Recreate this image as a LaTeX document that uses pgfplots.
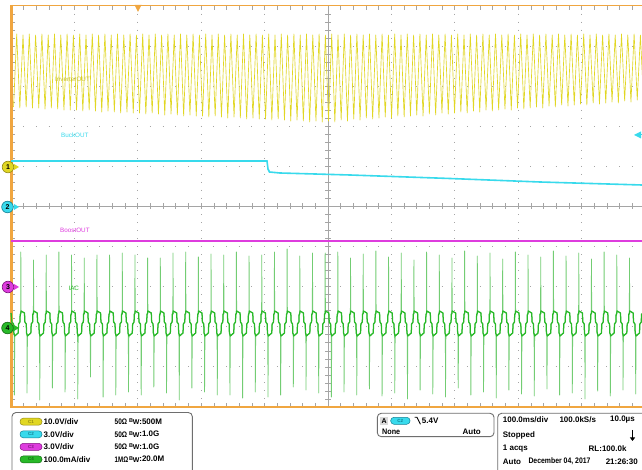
\documentclass[border=0pt]{standalone}
\usepackage{fontspec}
\setmainfont{Liberation Sans}
\usepackage{pgfplots}
\usepackage{pgfplotstable}
\pgfplotsset{compat=1.18}
\usetikzlibrary{arrows.meta}
\definecolor{cyel}{RGB}{225,215,35}
\definecolor{cyelD}{RGB}{150,140,20}
\definecolor{ccya}{RGB}{56,218,236}
\definecolor{ccyaD}{RGB}{20,130,150}
\definecolor{cmag}{RGB}{222,60,222}
\definecolor{cmagD}{RGB}{130,20,130}
\definecolor{cgrn}{RGB}{40,185,40}
\definecolor{cgrnL}{RGB}{115,205,115}
\definecolor{cgrnD}{RGB}{20,110,20}
\definecolor{corg}{RGB}{240,166,64}
\definecolor{cgrid}{RGB}{165,165,165}
\definecolor{cbox}{RGB}{110,110,110}
\pgfplotsset{scr/.style={width=642pt,height=470pt,scale only axis,at={(0,0)},anchor=south west,hide axis,ymin=0,ymax=470,y dir=reverse}}
\newcommand{\pf}{\fontsize{8}{9.6}\selectfont\bfseries}
\newcommand{\sx}[2]{\resizebox{#1pt}{\height}{\pf #2}}
\newcommand{\pill}[6]{\draw[#5,line width=0.5pt,fill=#4,rounded corners=3.3pt] (#1,{#3-3.5}) rectangle (#2,{#3+3.5});
  \node[inner sep=0pt,font=\fontsize{4.5}{5}\selectfont\bfseries,text=#5] at ({(#1+#2)/2},#3) {#6};}
\newcommand{\bw}[1]{\raisebox{1.6pt}{\fontsize{5.5}{5}\selectfont B}\kern-0.4pt\raisebox{-0.6pt}{\fontsize{7}{6}\selectfont W}:#1}
% C4 current trace, x in 1/100 of a 20 ms cycle, y in screen pixels
\pgfplotstableread[row sep=\\]{
x y\\
-76 313\\ -70 322\\ -56 324\\ -54 333\\ -51 334\\ -50 395\\ -47 336\\ -20 333\\ -17 324\\ -6 322\\ -4 314\\
0 314\\ 1 252\\ 3 311\\ 30 313\\ 33 322\\ 44 324\\ 46 333\\ 49 334\\ 50 393\\ 53 336\\ 80 333\\ 83 324\\ 94 322\\ 96 314\\
100 314\\ 101 260\\ 103 311\\ 130 313\\ 133 322\\ 144 324\\ 146 333\\ 149 334\\ 150 400\\ 153 336\\ 180 333\\ 183 324\\ 194 322\\ 196 314\\
200 314\\ 201 255\\ 203 311\\ 230 313\\ 233 322\\ 244 324\\ 246 333\\ 249 334\\ 250 388\\ 253 336\\ 280 333\\ 283 324\\ 294 322\\ 296 314\\
300 314\\ 301 252\\ 303 311\\ 330 313\\ 333 322\\ 344 324\\ 346 333\\ 349 334\\ 350 392\\ 353 336\\ 380 333\\ 383 324\\ 394 322\\ 396 314\\
400 314\\ 401 255\\ 403 311\\ 430 313\\ 433 322\\ 444 324\\ 446 333\\ 449 334\\ 450 399\\ 453 336\\ 480 333\\ 483 324\\ 494 322\\ 496 314\\
500 314\\ 501 258\\ 503 311\\ 530 313\\ 533 322\\ 544 324\\ 546 333\\ 549 334\\ 550 377\\ 553 336\\ 580 333\\ 583 324\\ 594 322\\ 596 314\\
600 314\\ 601 255\\ 603 311\\ 630 313\\ 633 322\\ 644 324\\ 646 333\\ 649 334\\ 650 397\\ 653 336\\ 680 333\\ 683 324\\ 694 322\\ 696 314\\
700 314\\ 701 255\\ 703 311\\ 730 313\\ 733 322\\ 744 324\\ 746 333\\ 749 334\\ 750 395\\ 753 336\\ 780 333\\ 783 324\\ 794 322\\ 796 314\\
800 314\\ 801 253\\ 803 311\\ 830 313\\ 833 322\\ 844 324\\ 846 333\\ 849 334\\ 850 392\\ 853 336\\ 880 333\\ 883 324\\ 894 322\\ 896 314\\
900 314\\ 901 255\\ 903 311\\ 930 313\\ 933 322\\ 944 324\\ 946 333\\ 949 334\\ 950 395\\ 953 336\\ 980 333\\ 983 324\\ 994 322\\ 996 314\\
1000 314\\ 1001 258\\ 1003 311\\ 1030 313\\ 1033 322\\ 1044 324\\ 1046 333\\ 1049 334\\ 1050 387\\ 1053 336\\ 1080 333\\ 1083 324\\ 1094 322\\ 1096 314\\
1100 314\\ 1101 258\\ 1103 311\\ 1130 313\\ 1133 322\\ 1144 324\\ 1146 333\\ 1149 334\\ 1150 393\\ 1153 336\\ 1180 333\\ 1183 324\\ 1194 322\\ 1196 314\\
1200 314\\ 1201 253\\ 1203 311\\ 1230 313\\ 1233 322\\ 1244 324\\ 1246 333\\ 1249 334\\ 1250 400\\ 1253 336\\ 1280 333\\ 1283 324\\ 1294 322\\ 1296 314\\
1300 314\\ 1301 252\\ 1303 311\\ 1330 313\\ 1333 322\\ 1344 324\\ 1346 333\\ 1349 334\\ 1350 388\\ 1353 336\\ 1380 333\\ 1383 324\\ 1394 322\\ 1396 314\\
1400 314\\ 1401 257\\ 1403 311\\ 1430 313\\ 1433 322\\ 1444 324\\ 1446 333\\ 1449 334\\ 1450 392\\ 1453 336\\ 1480 333\\ 1483 324\\ 1494 322\\ 1496 314\\
1500 314\\ 1501 254\\ 1503 311\\ 1530 313\\ 1533 322\\ 1544 324\\ 1546 333\\ 1549 334\\ 1550 395\\ 1553 336\\ 1580 333\\ 1583 324\\ 1594 322\\ 1596 314\\
1600 314\\ 1601 255\\ 1603 311\\ 1630 313\\ 1633 322\\ 1644 324\\ 1646 333\\ 1649 334\\ 1650 395\\ 1653 336\\ 1680 333\\ 1683 324\\ 1694 322\\ 1696 314\\
1700 314\\ 1701 252\\ 1703 311\\ 1730 313\\ 1733 322\\ 1744 324\\ 1746 333\\ 1749 334\\ 1750 398\\ 1753 336\\ 1780 333\\ 1783 324\\ 1794 322\\ 1796 314\\
1800 314\\ 1801 256\\ 1803 311\\ 1830 313\\ 1833 322\\ 1844 324\\ 1846 333\\ 1849 334\\ 1850 392\\ 1853 336\\ 1880 333\\ 1883 324\\ 1894 322\\ 1896 314\\
1900 314\\ 1901 255\\ 1903 311\\ 1930 313\\ 1933 322\\ 1944 324\\ 1946 333\\ 1949 334\\ 1950 397\\ 1953 336\\ 1980 333\\ 1983 324\\ 1994 322\\ 1996 314\\
2000 314\\ 2001 252\\ 2003 311\\ 2030 313\\ 2033 322\\ 2044 324\\ 2046 333\\ 2049 334\\ 2050 395\\ 2053 336\\ 2080 333\\ 2083 324\\ 2094 322\\ 2096 314\\
2100 314\\ 2101 249\\ 2103 311\\ 2130 313\\ 2133 322\\ 2144 324\\ 2146 333\\ 2149 334\\ 2150 387\\ 2153 336\\ 2180 333\\ 2183 324\\ 2194 322\\ 2196 314\\
2200 314\\ 2201 256\\ 2203 311\\ 2230 313\\ 2233 322\\ 2244 324\\ 2246 333\\ 2249 334\\ 2250 390\\ 2253 336\\ 2280 333\\ 2283 324\\ 2294 322\\ 2296 314\\
2300 314\\ 2301 253\\ 2303 311\\ 2330 313\\ 2333 322\\ 2344 324\\ 2346 333\\ 2349 334\\ 2350 393\\ 2353 336\\ 2380 333\\ 2383 324\\ 2394 322\\ 2396 314\\
2400 314\\ 2401 253\\ 2403 311\\ 2430 313\\ 2433 322\\ 2444 324\\ 2446 333\\ 2449 334\\ 2450 397\\ 2453 336\\ 2480 333\\ 2483 324\\ 2494 322\\ 2496 314\\
2500 314\\ 2501 252\\ 2503 311\\ 2530 313\\ 2533 322\\ 2544 324\\ 2546 333\\ 2549 334\\ 2550 392\\ 2553 336\\ 2580 333\\ 2583 324\\ 2594 322\\ 2596 314\\
2600 314\\ 2601 258\\ 2603 311\\ 2630 313\\ 2633 322\\ 2644 324\\ 2646 333\\ 2649 334\\ 2650 395\\ 2653 336\\ 2680 333\\ 2683 324\\ 2694 322\\ 2696 314\\
2700 314\\ 2701 254\\ 2703 311\\ 2730 313\\ 2733 322\\ 2744 324\\ 2746 333\\ 2749 334\\ 2750 389\\ 2753 336\\ 2780 333\\ 2783 324\\ 2794 322\\ 2796 314\\
2800 314\\ 2801 251\\ 2803 311\\ 2830 313\\ 2833 322\\ 2844 324\\ 2846 333\\ 2849 334\\ 2850 396\\ 2853 336\\ 2880 333\\ 2883 324\\ 2894 322\\ 2896 314\\
2900 314\\ 2901 257\\ 2903 311\\ 2930 313\\ 2933 322\\ 2944 324\\ 2946 333\\ 2949 334\\ 2950 393\\ 2953 336\\ 2980 333\\ 2983 324\\ 2994 322\\ 2996 314\\
3000 314\\ 3001 253\\ 3003 311\\ 3030 313\\ 3033 322\\ 3044 324\\ 3046 333\\ 3049 334\\ 3050 399\\ 3053 336\\ 3080 333\\ 3083 324\\ 3094 322\\ 3096 314\\
3100 314\\ 3101 260\\ 3103 311\\ 3130 313\\ 3133 322\\ 3144 324\\ 3146 333\\ 3149 334\\ 3150 390\\ 3153 336\\ 3180 333\\ 3183 324\\ 3194 322\\ 3196 314\\
3200 314\\ 3201 252\\ 3203 311\\ 3230 313\\ 3233 322\\ 3244 324\\ 3246 333\\ 3249 334\\ 3250 394\\ 3253 336\\ 3280 333\\ 3283 324\\ 3294 322\\ 3296 314\\
3300 314\\ 3301 255\\ 3303 311\\ 3330 313\\ 3333 322\\ 3344 324\\ 3346 333\\ 3349 334\\ 3350 397\\ 3353 336\\ 3380 333\\ 3383 324\\ 3394 322\\ 3396 314\\
3400 314\\ 3401 258\\ 3403 311\\ 3430 313\\ 3433 322\\ 3444 324\\ 3446 333\\ 3449 334\\ 3450 388\\ 3453 336\\ 3480 333\\ 3483 324\\ 3494 322\\ 3496 314\\
3500 314\\ 3501 251\\ 3503 311\\ 3530 313\\ 3533 322\\ 3544 324\\ 3546 333\\ 3549 334\\ 3550 395\\ 3553 336\\ 3580 333\\ 3583 324\\ 3594 322\\ 3596 314\\
3600 314\\ 3601 256\\ 3603 311\\ 3630 313\\ 3633 322\\ 3644 324\\ 3646 333\\ 3649 334\\ 3650 392\\ 3653 336\\ 3680 333\\ 3683 324\\ 3694 322\\ 3696 314\\
3700 314\\ 3701 253\\ 3703 311\\ 3730 313\\ 3733 322\\ 3744 324\\ 3746 333\\ 3749 334\\ 3750 398\\ 3753 336\\ 3780 333\\ 3783 324\\ 3794 322\\ 3796 314\\
3800 314\\ 3801 259\\ 3803 311\\ 3830 313\\ 3833 322\\ 3844 324\\ 3846 333\\ 3849 334\\ 3850 390\\ 3853 336\\ 3880 333\\ 3883 324\\ 3894 322\\ 3896 314\\
3900 314\\ 3901 252\\ 3903 311\\ 3930 313\\ 3933 322\\ 3944 324\\ 3946 333\\ 3949 334\\ 3950 394\\ 3953 336\\ 3980 333\\ 3983 324\\ 3994 322\\ 3996 314\\
4000 314\\ 4001 255\\ 4003 311\\ 4030 313\\ 4033 322\\ 4044 324\\ 4046 333\\ 4049 334\\ 4050 396\\ 4053 336\\ 4080 333\\ 4083 324\\ 4094 322\\ 4096 314\\
4100 314\\ 4101 257\\ 4103 311\\ 4130 313\\ 4133 322\\ 4144 324\\ 4146 333\\ 4149 334\\ 4150 389\\ 4153 336\\ 4180 333\\ 4183 324\\ 4194 322\\ 4196 314\\
4200 314\\ 4201 251\\ 4203 311\\ 4230 313\\ 4233 322\\ 4244 324\\ 4246 333\\ 4249 334\\ 4250 395\\ 4253 336\\ 4280 333\\ 4283 324\\ 4294 322\\ 4296 314\\
4300 314\\ 4301 256\\ 4303 311\\ 4330 313\\ 4333 322\\ 4344 324\\ 4346 333\\ 4349 334\\ 4350 393\\ 4353 336\\ 4380 333\\ 4383 324\\ 4394 322\\ 4396 314\\
4400 314\\ 4401 253\\ 4403 311\\ 4430 313\\ 4433 322\\ 4444 324\\ 4446 333\\ 4449 334\\ 4450 399\\ 4453 336\\ 4480 333\\ 4483 324\\ 4494 322\\ 4496 314\\
4500 314\\ 4501 259\\ 4503 311\\ 4530 313\\ 4533 322\\ 4544 324\\ 4546 333\\ 4549 334\\ 4550 391\\ 4553 336\\ 4580 333\\ 4583 324\\ 4594 322\\ 4596 314\\
4600 314\\ 4601 252\\ 4603 311\\ 4630 313\\ 4633 322\\ 4644 324\\ 4646 333\\ 4649 334\\ 4650 396\\ 4653 336\\ 4680 333\\ 4683 324\\ 4694 322\\ 4696 314\\
4700 314\\ 4701 255\\ 4703 311\\ 4730 313\\ 4733 322\\ 4744 324\\ 4746 333\\ 4749 334\\ 4750 390\\ 4753 336\\ 4780 333\\ 4783 324\\ 4794 322\\ 4796 314\\
4800 314\\ 4801 258\\ 4803 311\\ 4830 313\\ 4833 322\\ 4844 324\\ 4846 333\\ 4849 334\\ 4850 394\\ 4853 336\\ 4880 333\\ 4883 324\\ 4894 322\\ 4896 314\\
4900 314\\
}\greentab
\begin{document}
\begin{tikzpicture}
% ---------- background graticule ----------
\begin{scope}[x=1pt,y=-1pt,shift={(0pt,470pt)}]
\fill[white] (0,0) rectangle (642,470);
\foreach \k in {1,2,3,4,6,7,8,9}{
  \draw[cgrid,line width=1pt,dash pattern=on 1pt off 11.68pt] (10.5,{6+40.1*\k}) -- (642,{6+40.1*\k});
  \draw[cgrid,line width=1pt,dash pattern=on 1pt off 7.02pt] ({11+63.4*\k},5.5) -- ({11+63.4*\k},407);
}
\draw[cgrid,line width=0.8pt] (11,206.5) -- (642,206.5);
\draw[cgrid,line width=0.8pt] (328,6) -- (328,407);
\foreach \j in {1,...,50} \draw[cgrid,line width=0.7pt] ({11+12.68*\j},203.5) -- ++(0,6);
\foreach \j in {1,...,49} \draw[cgrid,line width=0.7pt] (325,{6+8.02*\j}) -- ++(6,0);
\foreach \j in {1,...,50} {\draw[cgrid,line width=0.7pt] ({11+12.68*\j},6) -- ++(0,4);
  \draw[cgrid,line width=0.7pt] ({11+12.68*\j},407) -- ++(0,-4);}
\foreach \j in {1,...,49} \draw[cgrid,line width=0.7pt] (11,{6+8.02*\j}) -- ++(4,0);
\draw[corg,line width=1.6pt] (10,5.6) -- (642,5.6);
\draw[corg,line width=1.6pt] (10,407.2) -- (642,407.2);
\draw[corg,line width=2.6pt] (11.2,4.8) -- (11.2,408);
\fill[corg] (134.5,5) -- (141.5,5) -- (138,12) -- cycle;
\end{scope}
% ---------- C1 yellow (x: half-cycle index) ----------
\begin{axis}[scr,xmin=-5.302,xmax=198.508]
\addplot[cyel,line width=0.65pt,line join=round] coordinates {
(-1,107)(0,34)(1,108)(2,35)(3,107)(4,34)(5,108)(6,35)(7,108)(8,34)(9,109)(10,35)(11,108)(12,34)(13,109)(14,35)(15,110)(16,34)(17,110)(18,35)(19,110)(20,34)
(21,111)(22,35)(23,110)(24,34)(25,111)(26,35)(27,112)(28,34)(29,111)(30,35)(31,112)(32,34)(33,113)(34,35)(35,112)(36,34)(37,113)(38,35)(39,113)(40,34)
(41,114)(42,35)(43,113)(44,34)(45,114)(46,35)(47,115)(48,34)(49,114)(50,35)(51,115)(52,34)(53,116)(54,35)(55,115)(56,34)(57,116)(58,35)(59,116)(60,34)
(61,117)(62,35)(63,116)(64,34)(65,117)(66,35)(67,118)(68,34)(69,117)(70,35)(71,118)(72,34)(73,119)(74,35)(75,118)(76,34)(77,119)(78,35)(79,119)(80,34)
(81,120)(82,35)(83,119)(84,34)(85,120)(86,35)(87,121)(88,34)(89,120)(90,35)(91,121)(92,34)(93,122)(94,35)(95,121)(96,34)(97,122)(98,35)
(99,121)(100,34)(101,122)(102,35)(103,120)(104,34)(105,121)(106,35)(107,119)(108,34)(109,120)(110,35)(111,118)(112,34)(113,119)(114,35)(115,118)(116,34)
(117,117)(118,35)(119,118)(120,34)(121,116)(122,35)(123,117)(124,34)(125,116)(126,35)(127,115)(128,34)(129,116)(130,35)(131,114)(132,34)(133,115)(134,35)
(135,113)(136,34)(137,114)(138,35)(139,113)(140,34)(141,112)(142,35)(143,113)(144,34)(145,111)(146,35)(147,112)(148,34)(149,110)(150,35)(151,111)(152,34)
(153,110)(154,35)(155,109)(156,34)(157,110)(158,35)(159,108)(160,34)(161,109)(162,35)(163,108)(164,34)(165,107)(166,35)(167,108)(168,34)(169,106)(170,35)
(171,107)(172,34)(173,105)(174,35)(175,106)(176,34)(177,105)(178,35)(179,104)(180,34)(181,105)(182,35)(183,103)(184,34)(185,104)(186,35)(187,103)(188,34)
(189,102)(190,35)(191,103)(192,34)(193,101)(194,35)(195,102)(196,34)(197,100)(198,35)(199,101)
};
\end{axis}
% ---------- C4 green (x: 1/100 cycle) ----------
\begin{axis}[scr,xmin=-163.25,xmax=4899.8]
\addplot[cgrnL,line width=0.8pt,line join=round] table[x=x,y=y] {\greentab};
\addplot[cgrn,line width=1.25pt,line join=round,unbounded coords=discard,
  y filter/.expression={(y<300||y>350) ? nan : y}] table[x=x,y=y] {\greentab};
\end{axis}
% ---------- C2 cyan, C3 magenta, channel markers (x: pixels) ----------
\begin{axis}[scr,xmin=0,xmax=642,clip=false]
\addplot[ccya,line width=1.6pt] coordinates {(11,161)(267,161)(268,169)(269.5,172)(280,173)(350,175)(450,178.5)(540,182)(642,185)};
\addplot[cmag,line width=1.5pt] coordinates {(11,241)(642,241)};
\addplot[only marks,mark=*,mark size=5.8pt,mark options={fill=cyel,draw=cyelD,line width=0.6pt}] coordinates {(8,167)};
\addplot[only marks,mark=*,mark size=5.8pt,mark options={fill=ccya,draw=ccyaD,line width=0.6pt}] coordinates {(7.5,207)};
\addplot[only marks,mark=*,mark size=5.8pt,mark options={fill=cmag,draw=cmagD,line width=0.6pt}] coordinates {(8,287)};
\addplot[only marks,mark=*,mark size=5.8pt,mark options={fill=cgrn,draw=cgrnD,line width=0.6pt}] coordinates {(7.5,328)};
\end{axis}
% ---------- overlay texts and panel ----------
\begin{scope}[x=1pt,y=-1pt,shift={(0pt,470pt)}]
\fill[cyel] (14,164) -- (19,167) -- (14,170) -- cycle;
\fill[ccya] (14,204) -- (19,207) -- (14,210) -- cycle;
\fill[cmag] (14,284) -- (19,287) -- (14,290) -- cycle;
\fill[cgrn] (14,325) -- (19,328) -- (14,331) -- cycle;
\node[inner sep=0pt,font=\fontsize{7}{7}\selectfont\bfseries] at (8,167) {1};
\node[inner sep=0pt,font=\fontsize{7}{7}\selectfont\bfseries] at (7.5,207) {2};
\node[inner sep=0pt,font=\fontsize{7}{7}\selectfont\bfseries] at (8,287) {3};
\node[inner sep=0pt,font=\fontsize{7}{7}\selectfont\bfseries] at (7.5,328) {4};
\fill[ccya] (634,135) -- (641,131.5) -- (641,138.5) -- cycle;
\draw[ccya,line width=1pt] (640,135) -- (642,135);
\node[anchor=west,inner sep=0pt,text=cyel!90!black,font=\fontsize{6.3}{7}\selectfont] at (55,79.3) {InverterOUT};
\node[anchor=west,inner sep=0pt,text=ccya,font=\fontsize{6.3}{7}\selectfont] at (61,135) {BuckOUT};
\node[anchor=west,inner sep=0pt,text=cmag,font=\fontsize{6.3}{7}\selectfont] at (60,230.7) {BoostOUT};
\node[anchor=west,inner sep=0pt,text=cgrn,font=\fontsize{6.3}{7}\selectfont] at (68.3,288.3) {IAC};
% panel boxes
\draw[cbox,line width=0.9pt,rounded corners=4pt] (12,476) -- (12,412.5) -- (192.3,412.5) -- (192.3,476);
\draw[cbox,line width=0.9pt,rounded corners=4pt] (377.3,413.3) rectangle (494,436.7);
\draw[cbox,line width=0.9pt,rounded corners=4pt] (497.7,476) -- (497.7,413.3) -- (660,413.3);
% box 1
\pill{20}{42}{421.7}{cyel}{cyelD}{C1}
\pill{20}{42}{434.3}{ccya}{ccyaD}{C2}
\pill{20}{42}{446.8}{cmag}{cmagD}{C3}
\pill{20}{42}{459.4}{cgrn}{cgrnD}{C4}
\node[anchor=west,inner sep=0pt,font=\pf] at (43.5,421.7) {10.0V/div};
\node[anchor=west,inner sep=0pt,font=\pf] at (43.5,434.3) {3.0V/div};
\node[anchor=west,inner sep=0pt,font=\pf] at (43.5,446.8) {3.0V/div};
\node[anchor=west,inner sep=0pt,font=\pf] at (43.5,459.4) {100.0mA/div};
\node[anchor=west,inner sep=0pt] at (114.5,421.7) {\sx{12.5}{50Ω}};
\node[anchor=west,inner sep=0pt] at (114.5,434.3) {\sx{12.5}{50Ω}};
\node[anchor=west,inner sep=0pt] at (114.5,446.8) {\sx{12.5}{50Ω}};
\node[anchor=west,inner sep=0pt] at (114.5,459.4) {\sx{13.5}{1MΩ}};
\node[anchor=west,inner sep=0pt,font=\pf] at (129,421.7) {\bw{500M}};
\node[anchor=west,inner sep=0pt,font=\pf] at (129,434.3) {\bw{1.0G}};
\node[anchor=west,inner sep=0pt,font=\pf] at (129,446.8) {\bw{1.0G}};
\node[anchor=west,inner sep=0pt,font=\pf] at (129,459.4) {\bw{20.0M}};
% box 2
\fill[black!15] (380,416.7) rectangle (388.3,425);
\node[inner sep=0pt,font=\fontsize{7}{7}\selectfont\bfseries] at (384.2,420.8) {A};
\pill{390.7}{410}{420.8}{ccya}{ccyaD}{C2}
\draw[black,line width=0.9pt] (414.5,417.3) -- (417,417.3) -- (420.5,424.3);
\node[anchor=west,inner sep=0pt,font=\pf] at (421.7,420.7) {5.4V};
\node[anchor=west,inner sep=0pt] at (382,431.7) {\sx{18}{None}};
\node[anchor=east,inner sep=0pt,font=\pf] at (481,431.7) {Auto};
% box 3
\node[anchor=west,inner sep=0pt,font=\pf] at (502.7,420) {100.0ms/div};
\node[anchor=west,inner sep=0pt,font=\pf] at (559.3,420) {100.0kS/s};
\node[anchor=east,inner sep=0pt,font=\pf] at (635,420) {10.0µs};
\node[anchor=west,inner sep=0pt,font=\pf] at (502.7,435) {Stopped};
\draw[black,line width=1.8pt,-{Triangle[length=3.5pt,width=5pt]}] (632.5,430) -- (632.5,441);
\node[anchor=west,inner sep=0pt,font=\pf] at (502.7,448.3) {1 acqs};
\node[anchor=east,inner sep=0pt,font=\pf] at (626.7,448.3) {RL:100.0k};
\node[anchor=west,inner sep=0pt,font=\pf] at (502.7,461.7) {Auto};
\node[anchor=west,inner sep=0pt] at (528.3,461.7) {\sx{62}{December 04, 2017}};
\node[anchor=east,inner sep=0pt,font=\pf] at (638,461.7) {21:26:30};
\end{scope}
\pgfresetboundingbox
\path[use as bounding box] (0,0) rectangle (642pt,470pt);
\end{tikzpicture}
\end{document}
